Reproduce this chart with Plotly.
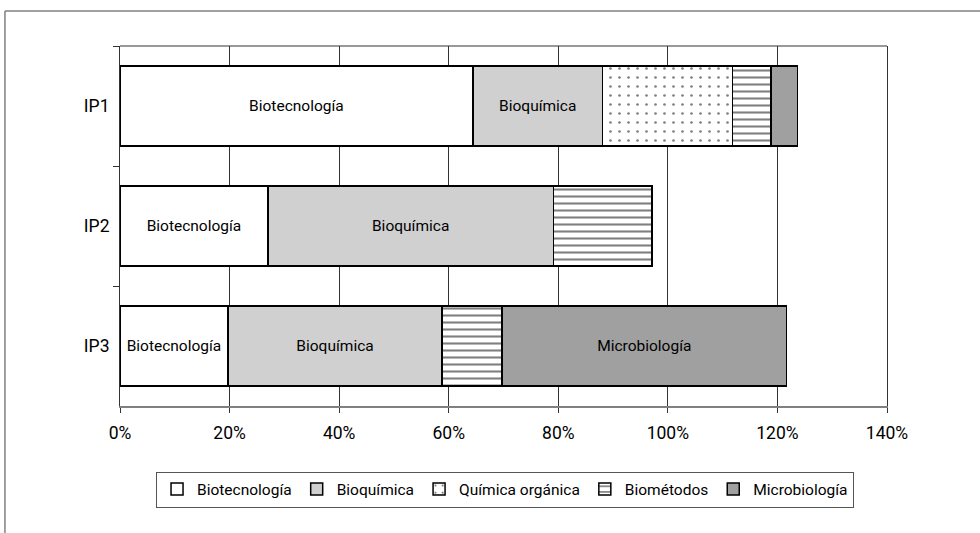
import plotly.graph_objects as go

categories = ["IP1", "IP2", "IP3"]
series_names = ["Biotecnología", "Bioquímica", "Química orgánica", "Biométodos", "Microbiología"]
biotecnologia = [0.644, 0.270, 0.197]
bioquimica = [0.237, 0.521, 0.391]
quimica_organica = [0.237, 0.0, 0.0]
biometodos = [0.070, 0.180, 0.109]
microbiologia = [0.049, 0.0, 0.520]
x_tick_values = [0, 0.2, 0.4, 0.6, 0.8, 1.0, 1.2, 1.4]
x_tick_labels = ["0%", "20%", "40%", "60%", "80%", "100%", "120%", "140%"]

values = [biotecnologia, bioquimica, quimica_organica, biometodos, microbiologia]
labels_shown = [
    ["Biotecnología", "Biotecnología", "Biotecnología"],
    ["Bioquímica", "Bioquímica", "Bioquímica"],
    ["", "", ""],
    ["", "", ""],
    ["", "", "Microbiología"],
]
styles = [
    dict(color="white", pattern=None),
    dict(color="#d0d0d0", pattern=None),
    dict(color="white", pattern=dict(shape=".", fgcolor="black", bgcolor="white", size=9, solidity=0.07)),
    dict(color="white", pattern=dict(shape="-", fgcolor="black", bgcolor="white", size=7, solidity=0.3)),
    dict(color="#a0a0a0", pattern=None),
]

FONT = "Roboto, Liberation Sans Narrow, sans-serif"

fig = go.Figure()
for name, vals, txt, st in zip(series_names, values, labels_shown, styles):
    marker = dict(color=st["color"], line=dict(color="black", width=1.5))
    if st["pattern"] is not None:
        marker["pattern"] = st["pattern"]
    fig.add_trace(go.Bar(
        name=name, y=categories, x=vals, orientation="h",
        marker=marker, text=txt, textposition="inside",
        insidetextanchor="middle", textangle=0,
        textfont=dict(family=FONT, size=15.5, color="black"),
        hoverinfo="skip",
    ))

fig.update_layout(
    barmode="stack",
    bargap=1/3,
    width=980, height=533,
    margin=dict(l=120, r=93, t=46, b=127, autoexpand=False),
    paper_bgcolor="white", plot_bgcolor="white",
    font=dict(family=FONT, size=16, color="black"),
    uniformtext=dict(minsize=15, mode="show"),
    legend=dict(
        orientation="h", x=0.502, xanchor="center", y=-0.182, yanchor="top",
        bordercolor="#555555", borderwidth=1, font=dict(family=FONT, size=15.5),
        traceorder="normal", itemclick=False, tracegroupgap=0,
    ),
    xaxis=dict(
        range=[0, 1.4], tickvals=x_tick_values, ticktext=x_tick_labels,
        showgrid=True, gridcolor="#333333", gridwidth=1,
        showline=True, linecolor="#808080", linewidth=2, mirror=False,
        ticks="outside", ticklen=5, tickcolor="#333333",
        tickfont=dict(family=FONT, size=17.5), zeroline=False, fixedrange=True,
        automargin=False, ticklabelstandoff=5,
    ),
    yaxis=dict(
        autorange="reversed", showgrid=False, showline=True, linecolor="#333333",
        linewidth=1, mirror=True, ticks="outside", tickson="boundaries", ticklen=6,
        tickcolor="#333333", tickfont=dict(family=FONT, size=17.5), zeroline=False,
        ticklabelstandoff=6, fixedrange=True, automargin=False,
    ),
    shapes=[
        dict(type="line", xref="paper", yref="paper", x0=0, x1=1, y0=1, y1=1,
             line=dict(color="#333333", width=1)),
        dict(type="line", xref="paper", yref="paper", x0=-0.150, x1=-0.150, y0=-0.5, y1=1.097,
             line=dict(color="#808080", width=1.5)),
        dict(type="line", xref="paper", yref="paper", x0=-0.150, x1=1.2, y0=1.097, y1=1.097,
             line=dict(color="#808080", width=1.5)),
    ],
)

fig.write_html("out.html", post_script="document.body.style.margin='0px';",
               config={"displayModeBar": False})
